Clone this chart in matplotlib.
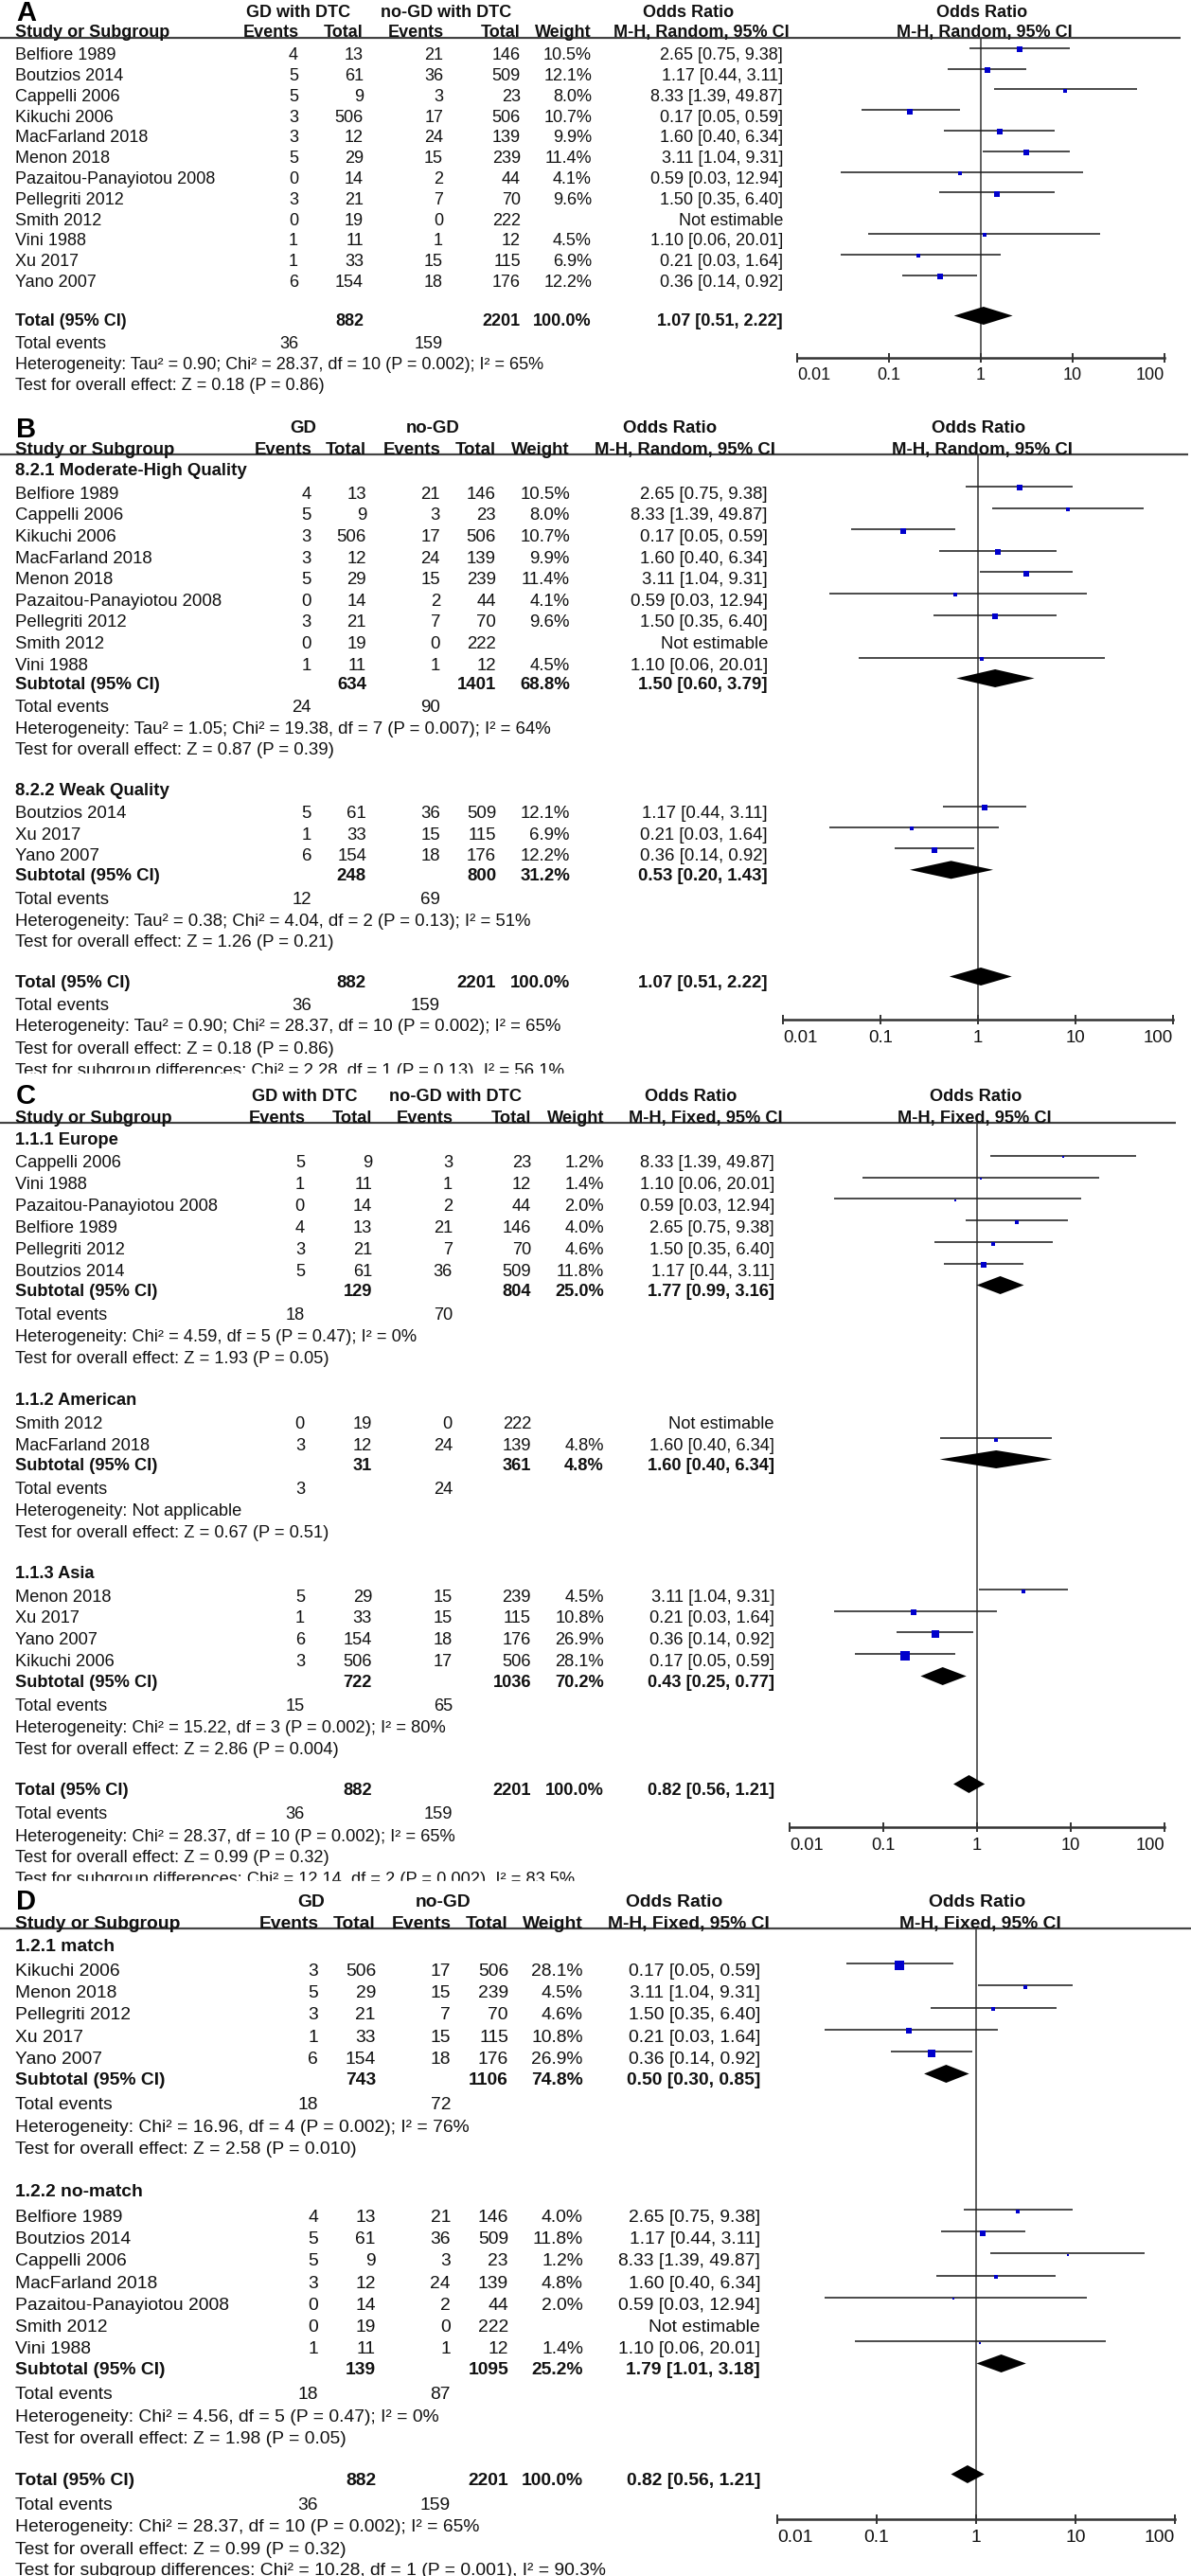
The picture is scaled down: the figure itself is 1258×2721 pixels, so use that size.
import numpy as np
import matplotlib
matplotlib.use('Agg')
import matplotlib.pyplot as plt
from matplotlib.patches import Rectangle

plt.rcParams['font.family'] = ['Liberation Sans', 'DejaVu Sans']

W, H, DPI = 1258, 2721, 100
TXT = '#111111'
LINE = '#333333'
BLUE = '#0000CC'

# ---------------- data ----------------
studies = ['Belfiore 1989', 'Boutzios 2014', 'Cappelli 2006', 'Kikuchi 2006',
           'MacFarland 2018', 'Menon 2018', 'Pazaitou-Panayiotou 2008',
           'Pellegriti 2012', 'Smith 2012', 'Vini 1988', 'Xu 2017', 'Yano 2007']
gd_events = [4, 5, 5, 3, 3, 5, 0, 3, 0, 1, 1, 6]
gd_total = [13, 61, 9, 506, 12, 29, 14, 21, 19, 11, 33, 154]
nogd_events = [21, 36, 3, 17, 24, 15, 2, 7, 0, 1, 15, 18]
nogd_total = [146, 509, 23, 506, 139, 239, 44, 70, 222, 12, 115, 176]
or_est = [2.65, 1.17, 8.33, 0.17, 1.60, 3.11, 0.59, 1.50, None, 1.10, 0.21, 0.36]
or_lo = [0.75, 0.44, 1.39, 0.05, 0.40, 1.04, 0.03, 0.35, None, 0.06, 0.03, 0.14]
or_hi = [9.38, 3.11, 49.87, 0.59, 6.34, 9.31, 12.94, 6.40, None, 20.01, 1.64, 0.92]
weight_random = [10.5, 12.1, 8.0, 10.7, 9.9, 11.4, 4.1, 9.6, None, 4.5, 6.9, 12.2]
weight_fixed = [4.0, 11.8, 1.2, 28.1, 4.8, 4.5, 2.0, 4.6, None, 1.4, 10.8, 26.9]

order_A = list(studies)
order_B = [['Belfiore 1989', 'Cappelli 2006', 'Kikuchi 2006', 'MacFarland 2018', 'Menon 2018',
            'Pazaitou-Panayiotou 2008', 'Pellegriti 2012', 'Smith 2012', 'Vini 1988'],
           ['Boutzios 2014', 'Xu 2017', 'Yano 2007']]
order_C = [['Cappelli 2006', 'Vini 1988', 'Pazaitou-Panayiotou 2008', 'Belfiore 1989',
            'Pellegriti 2012', 'Boutzios 2014'],
           ['Smith 2012', 'MacFarland 2018'],
           ['Menon 2018', 'Xu 2017', 'Yano 2007', 'Kikuchi 2006']]
order_D = [['Kikuchi 2006', 'Menon 2018', 'Pellegriti 2012', 'Xu 2017', 'Yano 2007'],
           ['Belfiore 1989', 'Boutzios 2014', 'Cappelli 2006', 'MacFarland 2018',
            'Pazaitou-Panayiotou 2008', 'Smith 2012', 'Vini 1988']]

sub_B_labels = ['8.2.1 Moderate-High Quality', '8.2.2 Weak Quality']
sub_B_gd_total = [634, 248]
sub_B_nogd_total = [1401, 800]
sub_B_weight = [68.8, 31.2]
sub_B_or = [1.50, 0.53]
sub_B_lo = [0.60, 0.20]
sub_B_hi = [3.79, 1.43]
sub_B_gd_events = [24, 12]
sub_B_nogd_events = [90, 69]
sub_B_het = ['Heterogeneity: Tau² = 1.05; Chi² = 19.38, df = 7 (P = 0.007); I² = 64%',
             'Heterogeneity: Tau² = 0.38; Chi² = 4.04, df = 2 (P = 0.13); I² = 51%']
sub_B_test = ['Test for overall effect: Z = 0.87 (P = 0.39)',
              'Test for overall effect: Z = 1.26 (P = 0.21)']

sub_C_labels = ['1.1.1 Europe', '1.1.2 American', '1.1.3 Asia']
sub_C_gd_total = [129, 31, 722]
sub_C_nogd_total = [804, 361, 1036]
sub_C_weight = [25.0, 4.8, 70.2]
sub_C_or = [1.77, 1.60, 0.43]
sub_C_lo = [0.99, 0.40, 0.25]
sub_C_hi = [3.16, 6.34, 0.77]
sub_C_gd_events = [18, 3, 15]
sub_C_nogd_events = [70, 24, 65]
sub_C_het = ['Heterogeneity: Chi² = 4.59, df = 5 (P = 0.47); I² = 0%',
             'Heterogeneity: Not applicable',
             'Heterogeneity: Chi² = 15.22, df = 3 (P = 0.002); I² = 80%']
sub_C_test = ['Test for overall effect: Z = 1.93 (P = 0.05)',
              'Test for overall effect: Z = 0.67 (P = 0.51)',
              'Test for overall effect: Z = 2.86 (P = 0.004)']

sub_D_labels = ['1.2.1 match', '1.2.2 no-match']
sub_D_gd_total = [743, 139]
sub_D_nogd_total = [1106, 1095]
sub_D_weight = [74.8, 25.2]
sub_D_or = [0.50, 1.79]
sub_D_lo = [0.30, 1.01]
sub_D_hi = [0.85, 3.18]
sub_D_gd_events = [18, 18]
sub_D_nogd_events = [72, 87]
sub_D_het = ['Heterogeneity: Chi² = 16.96, df = 4 (P = 0.002); I² = 76%',
             'Heterogeneity: Chi² = 4.56, df = 5 (P = 0.47); I² = 0%']
sub_D_test = ['Test for overall effect: Z = 2.58 (P = 0.010)',
              'Test for overall effect: Z = 1.98 (P = 0.05)']

total_gd = 882
total_nogd = 2201
total_gd_events = 36
total_nogd_events = 159
or_random = [1.07, 0.51, 2.22]
or_fixed = [0.82, 0.56, 1.21]
het_random = 'Heterogeneity: Tau² = 0.90; Chi² = 28.37, df = 10 (P = 0.002); I² = 65%'
het_fixed = 'Heterogeneity: Chi² = 28.37, df = 10 (P = 0.002); I² = 65%'
test_random = 'Test for overall effect: Z = 0.18 (P = 0.86)'
test_fixed = 'Test for overall effect: Z = 0.99 (P = 0.32)'
subdiff_B = 'Test for subgroup differences: Chi² = 2.28, df = 1 (P = 0.13), I² = 56.1%'
subdiff_C = 'Test for subgroup differences: Chi² = 12.14, df = 2 (P = 0.002), I² = 83.5%'
subdiff_D = 'Test for subgroup differences: Chi² = 10.28, df = 1 (P = 0.001), I² = 90.3%'

tick_vals = [0.01, 0.1, 1, 10, 100]
tick_labels = ['0.01', '0.1', '1', '10', '100']


def fmt_ci(e, l, h):
    return f'{e:.2f} [{l:.2f}, {h:.2f}]'


# ---------------- drawing ----------------
fig = plt.figure(figsize=(W / DPI, H / DPI), dpi=DPI)
bg = fig.add_axes([0, 0, 1, 1])
bg.set_xlim(0, W)
bg.set_ylim(H, 0)
bg.axis('off')


class Panel:
    def __init__(self, fs, left, cols, fx, ytop, ybot, line_x1):
        self.fs = fs
        self.left = left
        self.ev1, self.tot1, self.ev2, self.tot2, self.wt, self.ci = cols
        bg.plot([0, line_x1], [ytop, ytop], color='#444444', lw=1.6,
                solid_capstyle='butt', zorder=2)
        ax = fig.add_axes([fx[0] / W, 1 - ybot / H, (fx[1] - fx[0]) / W, (ybot - ytop) / H])
        ax.set_xscale('log')
        ax.set_xlim(0.01, 100)
        ax.set_ylim(ybot, ytop)
        ax.patch.set_visible(False)
        for s in ('top', 'left', 'right'):
            ax.spines[s].set_visible(False)
        ax.spines['bottom'].set_color(LINE)
        ax.spines['bottom'].set_linewidth(1.8)
        ax.set_xticks(tick_vals)
        ax.minorticks_off()
        ax.set_yticks([])
        ax.tick_params(axis='x', direction='inout', length=7.5, width=1.4,
                       color=LINE, labelbottom=False)
        ax.axvline(1, color=LINE, lw=1.1, zorder=1)
        for k, (v, lab) in enumerate(zip(tick_vals, tick_labels)):
            ha = 'left' if k == 0 else ('right' if k == len(tick_vals) - 1 else 'center')
            ax.text(v, ybot + 17 + 0.36 * fs, lab, fontsize=fs * 0.72, ha=ha,
                    va='baseline', color=TXT, clip_on=False)
        self.ax = ax

    def t(self, x, y, s, ha='left', bold=False, size=None):
        fs = self.fs if size is None else size
        bg.text(x, y + 0.36 * fs, s, fontsize=fs * 0.72, ha=ha, va='baseline',
                fontweight='bold' if bold else 'normal', color=TXT, zorder=3)

    def header(self, letter, letter_y, y_grp, grp1, g1x, grp2, g2x, or1x, mh1x,
               or2x, mh2x, y_col, method):
        bg.text(17, letter_y, letter, fontsize=21, fontweight='bold', ha='left',
                va='baseline', color='black')
        self.t(g1x, y_grp, grp1, ha='center', bold=True)
        self.t(g2x, y_grp, grp2, ha='center', bold=True)
        self.t(or1x, y_grp, 'Odds Ratio', ha='center', bold=True)
        self.t(or2x, y_grp, 'Odds Ratio', ha='center', bold=True)
        self.t(self.left, y_col, 'Study or Subgroup', bold=True)
        self.t(self.ev1 + 1, y_col, 'Events', ha='right', bold=True)
        self.t(self.tot1, y_col, 'Total', ha='right', bold=True)
        self.t(self.ev2 + 1, y_col, 'Events', ha='right', bold=True)
        self.t(self.tot2, y_col, 'Total', ha='right', bold=True)
        self.t(self.wt, y_col, 'Weight', ha='right', bold=True)
        self.t(mh1x, y_col, method, ha='center', bold=True)
        self.t(mh2x, y_col, method, ha='center', bold=True)

    def study(self, y, name, weights):
        i = studies.index(name)
        self.t(self.left, y, name)
        for x, v in ((self.ev1, gd_events[i]), (self.tot1, gd_total[i]),
                     (self.ev2, nogd_events[i]), (self.tot2, nogd_total[i])):
            self.t(x, y, str(v), ha='right')
        if or_est[i] is None:
            self.t(self.ci, y, 'Not estimable', ha='right')
            return
        w = weights[i]
        self.t(self.wt, y, f'{w:.1f}%', ha='right')
        self.t(self.ci, y, fmt_ci(or_est[i], or_lo[i], or_hi[i]), ha='right')
        self.ax.plot([or_lo[i], or_hi[i]], [y - 6, y - 6], color='#222222', lw=1.15,
                     solid_capstyle='butt', clip_on=False, zorder=2)
        side = 1.7 * np.sqrt(w) * 0.72
        self.ax.scatter([or_est[i]], [y - 4.5], marker='s', s=side ** 2, color=BLUE,
                        linewidths=0, zorder=3, clip_on=False)

    def summary(self, y, label, t1, t2, w, e, lo, hi):
        self.t(self.left, y, label, bold=True)
        self.t(self.tot1, y, str(t1), ha='right', bold=True)
        self.t(self.tot2, y, str(t2), ha='right', bold=True)
        self.t(self.wt, y, f'{w:.1f}%', ha='right', bold=True)
        self.t(self.ci, y, fmt_ci(e, lo, hi), ha='right', bold=True)
        yc = y - 4.5
        self.ax.fill([lo, e, hi, e], [yc, yc - 9.5, yc, yc + 9.5], color='black',
                     lw=0, zorder=3, clip_on=False)

    def events(self, y, e1, e2):
        self.t(self.left, y, 'Total events')
        self.t(self.ev1, y, str(e1), ha='right')
        self.t(self.ev2, y, str(e2), ha='right')


# ---------- Panel A ----------
pA = Panel(18.0, 15.5, (315, 384, 468, 550, 625, 827), (842, 1230), 40, 378, 1247)
pA.header('A', 22, 12, 'GD with DTC', 315, 'no-GD with DTC', 471, 727, 741, 1037, 1040,
          33, 'M-H, Random, 95% CI')
for k, name in enumerate(order_A):
    pA.study(56.7 + 21.8 * k, name, weight_random)
pA.summary(338, 'Total (95% CI)', total_gd, total_nogd, 100.0, *or_random)
pA.events(362, total_gd_events, total_nogd_events)
pA.t(pA.left, 384, het_random)
pA.t(pA.left, 406, test_random)

# ---------- Panel B ----------
pB = Panel(18.7, 16.3, (329, 387, 465, 524, 602, 811), (827, 1239), 480, 1077, 1255)
pB.header('B', 462, 450, 'GD', 320, 'no-GD', 457, 708, 723, 1034, 1037, 473,
          'M-H, Random, 95% CI')
B_layout = [dict(head=495.7, y0=520, step=22.6, sub=721, ev=745.7, het=768.3, test=790),
            dict(head=833.3, y0=857.7, step=22.3, sub=923.3, ev=948.3, het=971, test=993.3)]
for g, L in enumerate(B_layout):
    pB.t(pB.left, L['head'], sub_B_labels[g], bold=True)
    for k, name in enumerate(order_B[g]):
        pB.study(L['y0'] + L['step'] * k, name, weight_random)
    pB.summary(L['sub'], 'Subtotal (95% CI)', sub_B_gd_total[g], sub_B_nogd_total[g],
               sub_B_weight[g], sub_B_or[g], sub_B_lo[g], sub_B_hi[g])
    pB.events(L['ev'], sub_B_gd_events[g], sub_B_nogd_events[g])
    pB.t(pB.left, L['het'], sub_B_het[g])
    pB.t(pB.left, L['test'], sub_B_test[g])
pB.summary(1036, 'Total (95% CI)', total_gd, total_nogd, 100.0, *or_random)
pB.events(1060, total_gd_events, total_nogd_events)
pB.t(pB.left, 1082.7, het_random)
pB.t(pB.left, 1106, test_random)
pB.t(pB.left, 1129, subdiff_B)

# ---------- Panel C ----------
pC = Panel(18.3, 16.3, (322, 393, 478, 561, 638, 818), (834, 1230), 1186, 1930, 1242)
pC.header('C', 1166, 1156, 'GD with DTC', 322, 'no-GD with DTC', 481, 730, 745, 1031, 1029,
          1179, 'M-H, Fixed, 95% CI')
C_layout = [dict(head=1202, y0=1226.7, step=22.85, sub=1362, ev=1387, het=1410, test=1433),
            dict(head=1477, y0=1502, step=23, sub=1546, ev=1571, het=1594, test=1617),
            dict(head=1660, y0=1685, step=22.7, sub=1775, ev=1800, het=1823, test=1846)]
for g, L in enumerate(C_layout):
    pC.t(pC.left, L['head'], sub_C_labels[g], bold=True)
    for k, name in enumerate(order_C[g]):
        pC.study(L['y0'] + L['step'] * k, name, weight_fixed)
    pC.summary(L['sub'], 'Subtotal (95% CI)', sub_C_gd_total[g], sub_C_nogd_total[g],
               sub_C_weight[g], sub_C_or[g], sub_C_lo[g], sub_C_hi[g])
    pC.events(L['ev'], sub_C_gd_events[g], sub_C_nogd_events[g])
    pC.t(pC.left, L['het'], sub_C_het[g])
    pC.t(pC.left, L['test'], sub_C_test[g])
pC.summary(1889, 'Total (95% CI)', total_gd, total_nogd, 100.0, *or_fixed)
pC.events(1914, total_gd_events, total_nogd_events)
pC.t(pC.left, 1938, het_fixed)
pC.t(pC.left, 1960, test_fixed)
pC.t(pC.left, 1983, subdiff_C)

# ---------- Panel D ----------
pD = Panel(19.3, 16.3, (336, 397, 476, 537, 616, 803), (821, 1241), 2037, 2661, 1258)
pD.header('D', 2017, 2007, 'GD', 329, 'no-GD', 468, 712, 727, 1032, 1035, 2030,
          'M-H, Fixed, 95% CI')
D_layout = [dict(head=2054, y0=2080, step=23.25, sub=2195, ev=2221, het=2245, test=2268),
            dict(head=2313, y0=2340, step=23.2, sub=2501, ev=2527, het=2551, test=2574)]
for g, L in enumerate(D_layout):
    pD.t(pD.left, L['head'], sub_D_labels[g], bold=True)
    for k, name in enumerate(order_D[g]):
        pD.study(L['y0'] + L['step'] * k, name, weight_fixed)
    pD.summary(L['sub'], 'Subtotal (95% CI)', sub_D_gd_total[g], sub_D_nogd_total[g],
               sub_D_weight[g], sub_D_or[g], sub_D_lo[g], sub_D_hi[g])
    pD.events(L['ev'], sub_D_gd_events[g], sub_D_nogd_events[g])
    pD.t(pD.left, L['het'], sub_D_het[g])
    pD.t(pD.left, L['test'], sub_D_test[g])
pD.summary(2618, 'Total (95% CI)', total_gd, total_nogd, 100.0, *or_fixed)
pD.events(2644, total_gd_events, total_nogd_events)
pD.t(pD.left, 2667, het_fixed)
pD.t(pD.left, 2691, test_fixed)
pD.t(pD.left, 2713, subdiff_D)

# cropped panel seams (the source panels were stacked crops)
bg.add_patch(Rectangle((0, 1134), 900, 6, color='white', zorder=10))
bg.add_patch(Rectangle((0, 1987), 900, 7, color='white', zorder=10))

fig.savefig('out.png', dpi=DPI)
